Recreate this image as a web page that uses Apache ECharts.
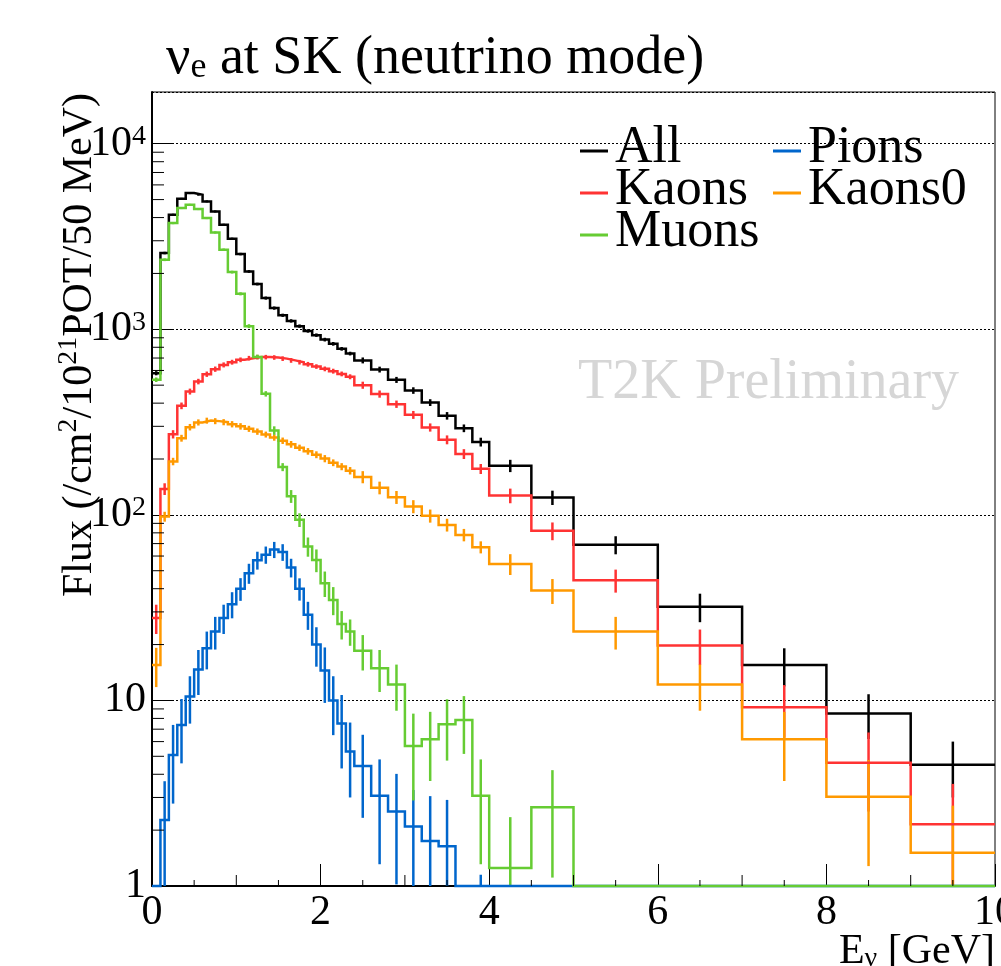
<!DOCTYPE html>
<html>
<head>
<meta charset="utf-8">
<script src="https://cdn.jsdelivr.net/npm/echarts@6/dist/echarts.min.js"></script>
<style>
html,body{margin:0;padding:0;background:#fff;overflow:hidden;}
#chart{width:1001px;height:966px;}
</style>
</head>
<body>
<div id="chart"></div>
<script>
// ---------- data (flux per 50 MeV, variable binning in GeV) ----------
const binEdges = [0,0.1,0.2,0.3,0.4,0.5,0.6,0.7,0.8,0.9,1.0,1.1,1.2,1.3,1.4,1.5,1.6,1.7,1.8,1.9,2.0,2.1,2.2,2.3,2.4,2.6,2.8,3.0,3.2,3.4,3.6,3.8,4.0,4.5,5,6,7,8,9,10];

const allFlux   = [580,2576,4140,5050,5420,5310,4890,4315,3656,3073, 2543,2050,1753,1473,1301,1190,1110,1040,980,930, 880,835,785,740, 680,607,534,468,403,342,293,247, 184,124, 69,32,15.5,8.5,4.5];
const allErr    = [15,40,55,60,65,65,60,55,50,45, 40,35,30,28,26,24,23,22,21,20, 20,19,18,17, 25,22,20,19,17,16,14,13.5, 14,11, 7.7,5.6,3.6,2.3,1.5];

const pionFlux  = [0,2.27,5.08,7.38,10.5,14.7,19.1,23.5,27.8,33, 40,48.5,57,61,65,63,52,40,29,20, 14.5,10,7.5,5.3, 4.43,3.06,2.52,2.09,1.75,1.64,0,0.5, 0,0, 0,0,0,0,0];
const pionErr   = [0,1.4,2.3,2.8,3,4,4.4,4.7,5,5.3, 5.6,6,6.3,6.5,6.5,6.5,6,5.5,5,4.8, 4.8,3.5,3.2,2.3, 2.1,1.75,1.5,1.2,1.3,1.27,0,0.65, 0,0, 0,0,0,0,0];

const kaonFlux  = [27.8,138,272,387,462,523,573,610,643,665, 685,699,708,708,705,695,680,665,648,630, 612,595,575,555, 500,448,395,346,296,254,213,177, 127,82, 44.4,19.8,9.2,4.62,2.15];
const kaonErr   = [5,10,14,16,17,18,19,20,20,20, 20,20,20,20,20,20,20,19,19,18, 18,18,17,17, 22,20,18,17,15,14,13,11, 11.5,9, 6.3,4.3,2.9,2.1,1.4];

const kaon0Flux = [15.5,97.9,194,259,297,315,322,320,316,308, 300,291,281,271,261,251,240,230,220,211, 201,191,182,173, 160,140,124.5,111,98.8,88.3,78,67, 54.4,39.1, 23.5,12.2,6.18,3.03,1.51];
const kaon0Err  = [3.7,6,9,11,12,12,12,12,12,12, 12,11,11,10,10,10,10,9,9,9, 9,8,8,8, 12,11,10,9,8,7,6,5, 7,6, 4.7,3.4,2.5,1.75,1.2];

const muonFlux  = [535,2370,3735,4500,4690,4445,3975,3325,2685,2033, 1553,1040,710,449,285,181,126,94,67.5,57.1, 42.8,34.8,25.8,23.5, 18.5,14.9,12.2,5.69,6.18,7.44,7.85,3.06, 1.25,2.66, 0,0,0,0,0];
const muonErr   = [15,40,50,55,55,55,50,45,40,35, 30,25,20,15,15,9,10,8,8,8, 6.7,6,4.5,3.8, 4,3.8,3.4,2.8,2.5,2.7,2.7,1.75, 1.1,1.55, 0,0,0,0,0];

const seriesNames = ['All','Pions','Kaons','Kaons0','Muons'];
const xTickLabels = [0,2,4,6,8,10];
const xMidTicks   = [1,3,5,7,9];
const xMinorTicks = [0.5,1.5,2.5,3.5,4.5,5.5,6.5,7.5,8.5,9.5];
const yDecades    = [1,10,100,1000,10000];
const yMinorMult  = [2,3,4,5,6,7,8,9];

// ---------- settings ----------
const XMIN = 0, XMAX = 10, YMIN = 1, YMAX = 19000;
const FONT = "'Liberation Serif','Times New Roman',Times,serif";
const COLORS = {All:'#000000', Pions:'#0066cc', Kaons:'#ff3333', Kaons0:'#ff9900', Muons:'#66cc33'};
const LW = 2.5;
const DATA = {
  All:[allFlux,allErr], Pions:[pionFlux,pionErr], Kaons:[kaonFlux,kaonErr],
  Kaons0:[kaon0Flux,kaon0Err], Muons:[muonFlux,muonErr]
};

function stepPoints(vals){
  const pts=[];
  for(let i=0;i<vals.length;i++){
    const v=Math.max(vals[i],YMIN);
    pts.push([binEdges[i],v],[binEdges[i+1],v]);
  }
  return pts;
}
function errItems(vals,errs){
  const out=[];
  for(let i=0;i<vals.length;i++){
    if(errs[i]>0) out.push([(binEdges[i]+binEdges[i+1])/2, vals[i], errs[i]]);
  }
  return out;
}
function errRenderer(color){
  return function(params,api){
    const x=api.value(0), v=api.value(1), e=api.value(2);
    const lo=Math.max(v-e,YMIN), hi=Math.min(v+e,YMAX);
    if(hi<=YMIN) return null;
    const p1=api.coord([x,lo]), p2=api.coord([x,hi]);
    return {type:'line', shape:{x1:p1[0],y1:p1[1],x2:p2[0],y2:p2[1]},
            style:{stroke:color,lineWidth:LW}};
  };
}

// tick decorations (minor ticks of ROOT style axes)
const tickData=[];
xMidTicks.forEach(v=>tickData.push([v,YMIN,0,11]));
xMinorTicks.forEach(v=>tickData.push([v,YMIN,0,6]));
yDecades.forEach(d=>yMinorMult.forEach(m=>{ if(m*d<YMAX) tickData.push([XMIN,m*d,1,12]); }));

const series=[];
seriesNames.forEach(name=>{
  const [vals,errs]=DATA[name];
  series.push({
    name:name, type:'line', data:stepPoints(vals), color:COLORS[name],
    symbol:'none', clip:false, silent:true, animation:false,
    lineStyle:{color:COLORS[name], width:LW, join:'miter', cap:'butt'},
    emphasis:{disabled:true}
  });
  series.push({
    name:name+' err', type:'custom', data:errItems(vals,errs), silent:true, animation:false,
    encode:{x:0,y:1}, renderItem:errRenderer(COLORS[name])
  });
});
series.push({
  name:'ticks', type:'custom', data:tickData, silent:true, animation:false, z:5,
  encode:{x:0,y:1},
  renderItem:function(params,api){
    const kind=api.value(2), len=api.value(3);
    const p=api.coord([api.value(0),api.value(1)]);
    const shape = kind===0 ? {x1:p[0],y1:p[1],x2:p[0],y2:p[1]-len}
                           : {x1:p[0],y1:p[1],x2:p[0]+len,y2:p[1]};
    return {type:'line', shape:shape, style:{stroke:'#000',lineWidth:1}};
  }
});

const LEG_ICON='path://M0,0 L0.05,0 L0.05,0.05 Z M0,6 L28,6 L28,9 L0,9 Z';
const legendCommon={
  orient:'vertical', top:122, itemWidth:28, itemHeight:9, icon:LEG_ICON,
  symbolKeepAspect:false, itemGap:-10, padding:0, selectedMode:false,
  itemStyle:{borderWidth:0},
  textStyle:{fontFamily:FONT, fontSize:52, color:'#000', lineHeight:42, padding:[0,0,0,2]}
};

const option={
  backgroundColor:'#ffffff',
  animation:false,
  grid:{left:152,right:6,top:92,bottom:80,show:true,borderColor:'#000',borderWidth:1,
        containLabel:false, outerBoundsMode:'none'},
  xAxis:{
    type:'value', min:XMIN, max:XMAX, interval:2,
    axisLine:{show:true,onZero:false,lineStyle:{color:'#000',width:2}},
    axisTick:{show:true,inside:true,length:22,lineStyle:{color:'#000',width:1}},
    splitLine:{show:false},
    axisLabel:{fontFamily:FONT,fontSize:42,color:'#000',margin:6,hideOverlap:false,
      formatter:function(v){ return xTickLabels.indexOf(v)>=0 ? String(v) : ''; }}
  },
  yAxis:{
    type:'log', logBase:10, min:YMIN, max:YMAX,
    axisLine:{show:true,lineStyle:{color:'#000',width:2}},
    axisTick:{show:true,inside:true,length:22,lineStyle:{color:'#000',width:1}},
    splitLine:{show:true,lineStyle:{color:'#000',type:[2,2],width:1}},
    axisLabel:{
      fontFamily:FONT,fontSize:42,color:'#000',margin:6,showMaxLabel:false,
      formatter:function(v){
        const l=Math.log10(v), e=Math.round(l);
        if(Math.abs(l-e)>1e-6) return '';
        if(e===0) return '1';
        if(e===1) return '10';
        return '{b|10}{s|'+e+'}';
      },
      rich:{
        b:{fontFamily:FONT,fontSize:42,color:'#000',lineHeight:42,verticalAlign:'bottom'},
        s:{fontFamily:FONT,fontSize:28,color:'#000',lineHeight:14,verticalAlign:'top'}
      }
    }
  },
  legend:[
    Object.assign({},legendCommon,{left:580,data:['All','Kaons','Muons']}),
    Object.assign({},legendCommon,{left:773,data:['Pions','Kaons0']})
  ],
  graphic:[
    {type:'text', x:166, y:56, silent:true,
      style:{text:'{n|ν}{s|e}{n| at SK (neutrino mode)}',
        align:'left', verticalAlign:'middle', textAlign:'left', textVerticalAlign:'middle',
        rich:{n:{fontFamily:FONT,fontSize:54,lineHeight:60,verticalAlign:'bottom',fill:'#000'},
              s:{fontFamily:FONT,fontSize:36,lineHeight:30,verticalAlign:'bottom',fill:'#000'}}}},
    {type:'text', x:78, y:345, rotation:Math.PI/2, silent:true,
      style:{text:'{n|Flux (/cm}{p|2}{n|/10}{p|21}{n|POT/50 MeV)}',
        align:'center', verticalAlign:'middle', textAlign:'center', textVerticalAlign:'middle',
        rich:{n:{fontFamily:FONT,fontSize:42,lineHeight:46,verticalAlign:'bottom',fill:'#000'},
              p:{fontFamily:FONT,fontSize:28,lineHeight:22,verticalAlign:'top',fill:'#000'}}}},
    {type:'text', x:995, y:950, silent:true,
      style:{text:'{n|E}{s|ν}{n| [GeV]}',
        align:'right', verticalAlign:'middle', textAlign:'right', textVerticalAlign:'middle',
        rich:{n:{fontFamily:FONT,fontSize:42,lineHeight:46,verticalAlign:'bottom',fill:'#000'},
              s:{fontFamily:FONT,fontSize:28,lineHeight:30,verticalAlign:'bottom',fill:'#000'}}}},
    {type:'text', x:578, y:383, silent:true,
      style:{text:'T2K Preliminary', fontFamily:FONT, fontSize:56, fill:'#d6d6d6',
        align:'left', verticalAlign:'middle', textAlign:'left', textVerticalAlign:'middle'}}
  ],
  series:series
};

const chart=echarts.init(document.getElementById('chart'),null,{renderer:'canvas',width:1001,height:966});
chart.setOption(option);
</script>
</body>
</html>
